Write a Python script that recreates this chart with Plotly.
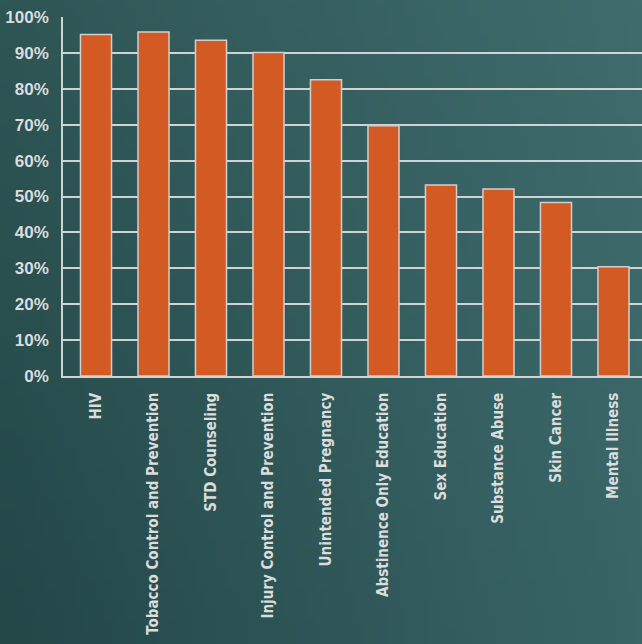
import base64
import struct
import zlib

import numpy as np
import plotly.graph_objects as go

# Share of schools covering each topic
topics = [
    "HIV",
    "Tobacco Control and Prevention",
    "STD Counseling",
    "Injury Control and Prevention",
    "Unintended Pregnancy",
    "Abstinence Only Education",
    "Sex Education",
    "Substance Abuse",
    "Skin Cancer",
    "Mental Illness",
]
percent = [95.1, 95.8, 93.5, 90.1, 82.5, 69.7, 53.2, 52.1, 48.3, 30.4]
y_ticks = list(range(0, 101, 10))
y_tick_labels = [f"{v}%" for v in y_ticks]


def gradient_png(w, h, tl, tr, bl, br):
    """Build a small PNG with a bilinear colour blend between four corners."""
    tl, tr, bl, br = (np.array(c, dtype=float) for c in (tl, tr, bl, br))
    u = np.linspace(0, 1, w)[None, :, None]
    v = np.linspace(0, 1, h)[:, None, None]
    top = tl * (1 - u) + tr * u
    bot = bl * (1 - u) + br * u
    img = (top * (1 - v) + bot * v).clip(0, 255).astype(np.uint8)
    raw = b"".join(b"\x00" + img[r].tobytes() for r in range(h))

    def chunk(tag, data):
        c = struct.pack(">I", len(data)) + tag + data
        return c + struct.pack(">I", zlib.crc32(tag + data) & 0xFFFFFFFF)

    png = b"\x89PNG\r\n\x1a\n"
    png += chunk(b"IHDR", struct.pack(">IIBBBBB", w, h, 8, 2, 0, 0, 0))
    png += chunk(b"IDAT", zlib.compress(raw, 9))
    png += chunk(b"IEND", b"")
    return "data:image/png;base64," + base64.b64encode(png).decode()


bg = gradient_png(64, 64, (46, 86, 85), (64, 108, 109), (36, 71, 72), (57, 101, 103))

text_color = "#dcdcdc"
line_color = "#cfd3d3"
label_font = "DejaVu Sans Condensed, DejaVu Sans, sans-serif"

W, H = 642, 644
ML, MR, MT, MB = 63, 0, 17, 268
PW, PH = W - ML - MR, H - MT - MB

fig = go.Figure(
    go.Bar(
        x=topics,
        y=percent,
        width=0.54,
        marker=dict(color="#d35a22", line=dict(color="#cfcfcf", width=1.5)),
    )
)

fig.update_layout(
    width=W,
    height=H,
    margin=dict(l=ML, r=MR, t=MT, b=MB, autoexpand=False),
    paper_bgcolor="#2f5857",
    plot_bgcolor="rgba(0,0,0,0)",
    showlegend=False,
    images=[
        dict(
            source=bg,
            xref="paper",
            yref="paper",
            x=-ML / PW,
            y=1 + MT / PH,
            sizex=W / PW,
            sizey=H / PH,
            xanchor="left",
            yanchor="top",
            sizing="stretch",
            layer="below",
        )
    ],
    font=dict(family=label_font, color=text_color),
)

fig.update_xaxes(
    range=[-0.574, 9.496],
    automargin=False,
    tickangle=-90,
    tickfont=dict(size=15, family=label_font, weight="bold", color=text_color),
    ticks="",
    ticklabelstandoff=9,
    showgrid=False,
    showline=True,
    linecolor=line_color,
    linewidth=1.5,
)

fig.update_yaxes(
    range=[0, 100],
    automargin=False,
    tickvals=y_ticks,
    ticktext=y_tick_labels,
    tickfont=dict(size=17, family="Liberation Sans", weight="bold", color=text_color),
    ticks="",
    ticklabelstandoff=9,
    showgrid=True,
    gridcolor=line_color,
    gridwidth=1.5,
    showline=True,
    linecolor=line_color,
    linewidth=1.5,
    zeroline=False,
)

fig.write_html("out.html")
